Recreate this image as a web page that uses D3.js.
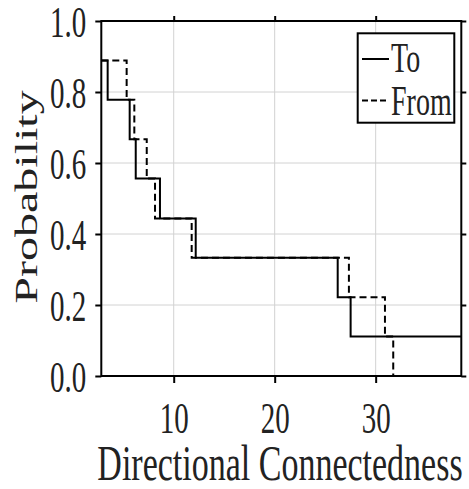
<!DOCTYPE html>
<html>
<head>
<meta charset="utf-8">
<script src="https://cdn.jsdelivr.net/npm/d3@7"></script>
<style>
body { margin: 0; background: #fff; }
svg { display: block; }
</style>
</head>
<body>
<script>
// step levels shared by both curves (n = 9)
var probLevels = [0.889, 0.778, 0.667, 0.556, 0.444, 0.333, 0.222, 0.111, 0.0];
// x where each curve drops to the next level
var toDrops = [3.46, 5.64, 6.24, 8.64, 12.18, 26.24, 27.52];
var fromDrops = [5.34, 6.10, 7.33, 8.15, 11.78, 27.35, 30.92, 31.74];
var xTicks = [10, 20, 30];
var yTicks = [0.0, 0.2, 0.4, 0.6, 0.8, 1.0];
var seriesNames = ["To", "From"];

var width = 469;
var height = 489;
var plotLeft = 101.3, plotRight = 461.3, plotTop = 21, plotBottom = 376;
var font = "Liberation Serif, Times New Roman, serif";
var textColor = "#222";
var sy = 1.5; // the figure is stretched vertically

var svg = d3.select("body").append("svg").attr("width", width).attr("height", height);

var x = d3.scaleLinear().domain([2.83, 38.48]).range([plotLeft, plotRight]);
var y = d3.scaleLinear().domain([0, 1]).range([plotBottom, plotTop]);

// grid
svg.append("g").selectAll("line")
    .data(xTicks)
    .enter()
    .append("line")
    .attr("x1", function (d) { return x(d); })
    .attr("x2", function (d) { return x(d); })
    .attr("y1", plotTop).attr("y2", plotBottom)
    .attr("stroke", "#d2d2d2").attr("stroke-width", 1);
svg.append("g").selectAll("line")
    .data(yTicks.slice(1, -1))
    .enter()
    .append("line")
    .attr("y1", function (d) { return y(d); })
    .attr("y2", function (d) { return y(d); })
    .attr("x1", plotLeft).attr("x2", plotRight)
    .attr("stroke", "#d2d2d2").attr("stroke-width", 1);

function stepPoints(drops, endAtEdge) {
    var pts = [[x.domain()[0], probLevels[0]]];
    for (var i = 0; i < drops.length; i++) {
        pts.push([drops[i], probLevels[i + 1]]);
    }
    if (endAtEdge) pts.push([x.domain()[1], probLevels[drops.length]]);
    return pts;
}

var line = d3.line()
    .x(function (d) { return x(d[0]); })
    .y(function (d) { return y(d[1]); })
    .curve(d3.curveStepAfter);

svg.append("path")
    .attr("d", line(stepPoints(toDrops, true)))
    .attr("fill", "none").attr("stroke", "#000").attr("stroke-width", 2);
svg.append("path")
    .attr("d", line(stepPoints(fromDrops, false)))
    .attr("fill", "none").attr("stroke", "#000").attr("stroke-width", 2)
    .attr("stroke-dasharray", "7,4");

// axes, ticks pointing outward on all four sides
function styleAxis(g) {
    g.select(".domain").remove();
    g.selectAll(".tick line").attr("stroke", "#000").attr("stroke-width", 2);
}

var gx = svg.append("g").attr("transform", "translate(0," + plotBottom + ")")
    .call(d3.axisBottom(x).tickValues(xTicks).tickSize(7).tickFormat(d3.format("d")));
styleAxis(gx);
gx.selectAll(".tick text")
    .attr("y", null).attr("dy", null)
    .attr("transform", "translate(0,57) scale(1," + sy + ")")
    .attr("font-family", font).attr("font-size", 29).attr("fill", textColor);

var gy = svg.append("g").attr("transform", "translate(" + plotLeft + ",0)")
    .call(d3.axisLeft(y).tickValues(yTicks).tickSize(6).tickFormat(d3.format(".1f")));
styleAxis(gy);
gy.selectAll(".tick text")
    .attr("x", null).attr("dy", null)
    .attr("transform", "translate(-15,15) scale(1," + sy + ")")
    .attr("font-family", font).attr("font-size", 29).attr("fill", textColor);

var gt = svg.append("g").attr("transform", "translate(0," + plotTop + ")")
    .call(d3.axisTop(x).tickValues(xTicks).tickSize(5).tickFormat(""));
styleAxis(gt);
var gr = svg.append("g").attr("transform", "translate(" + plotRight + ",0)")
    .call(d3.axisRight(y).tickValues(yTicks).tickSize(5).tickFormat(""));
styleAxis(gr);

svg.append("rect")
    .attr("x", plotLeft).attr("y", plotTop)
    .attr("width", plotRight - plotLeft).attr("height", plotBottom - plotTop)
    .attr("fill", "none").attr("stroke", "#000").attr("stroke-width", 2);

// axis titles
svg.append("text")
    .attr("transform", "translate(280,480) scale(1," + sy + ")")
    .attr("text-anchor", "middle")
    .attr("font-family", font).attr("font-size", 34).attr("fill", textColor)
    .text("Directional Connectedness");
svg.append("text")
    .attr("transform", "translate(37,197) rotate(-90) scale(" + sy + ",1)")
    .attr("text-anchor", "middle")
    .attr("font-family", font).attr("font-size", 32).attr("fill", textColor)
    .text("Probability");

// legend
var legend = svg.append("g");
legend.append("rect")
    .attr("x", 357.7).attr("y", 33.3).attr("width", 96.6).attr("height", 89.4)
    .attr("fill", "#fff").attr("stroke", "#000").attr("stroke-width", 2);
legend.selectAll("line")
    .data(seriesNames)
    .enter()
    .append("line")
    .attr("x1", 362).attr("x2", 389)
    .attr("y1", function (d, i) { return 59 + i * 41.5; })
    .attr("y2", function (d, i) { return 59 + i * 41.5; })
    .attr("stroke", "#000").attr("stroke-width", 2)
    .attr("stroke-dasharray", function (d, i) { return i ? "6,3" : null; });
legend.selectAll("text")
    .data(seriesNames)
    .enter()
    .append("text")
    .attr("transform", function (d, i) {
        return "translate(391," + (72 + i * 43) + ") scale(1," + sy + ")";
    })
    .attr("font-family", font).attr("font-size", 28).attr("fill", textColor)
    .text(function (d) { return d; });
</script>
</body>
</html>
